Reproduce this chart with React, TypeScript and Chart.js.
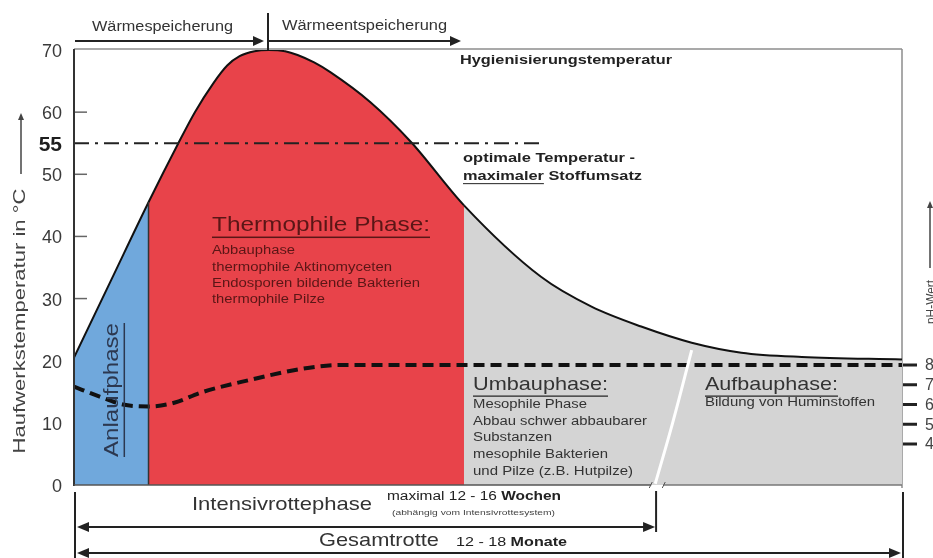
import { useEffect, useRef } from "react";
import { Chart, registerables } from "chart.js";

Chart.register(...registerables);

// ---- data ----
// x: share of the total composting time in %, y: heap temperature in °C
const timePct = [0, 4.5, 9, 12.6, 14.6, 16.8, 18.5, 20, 21.8, 23.5, 25.5, 27, 29, 31, 35.8, 40.7, 47.1, 56.4, 62.5, 68.5, 74.6, 80.6, 87.9, 100];
const temperature = [20.5, 33, 45.5, 55, 60, 64.6, 67.5, 69.0, 69.8, 70, 69.8, 69.2, 68.0, 66.4, 61.6, 55.2, 45, 33.5, 28.7, 25.5, 22.9, 21.3, 20.6, 20.2];
// phase boundaries (% of time): Anlaufphase | Thermophile Phase | Umbau-/Aufbauphase
const phaseBounds = [9, 47.1];
// pH curve (dashed)
const phTimePct = [0, 3.1, 5.9, 9, 12.2, 15.3, 21.3, 27.4, 32.2, 100];
const phValue = [6.9, 6.4, 6.0, 5.9, 6.1, 6.6, 7.25, 7.8, 8.0, 8.0];
// optimum temperature reference line
const optimumTemp = 55;
const optimumSpan = [0, 56.3];
// break of the time axis (white curve)
const breakTimePct = [74.6, 72.3, 70.2];
const breakTemp = [21.7, 10, 0.2];
// tick labels
const tempTicks = [0, 10, 20, 30, 40, 50, 55, 60, 70];
const phTicks = [4, 5, 6, 7, 8];
const intensiveEndPct = 70.3;

const FONT = "'Liberation Sans', Arial, Helvetica, sans-serif";
const BLUE = "#70a8dc";
const RED = "#e8434a";
const GRAY = "#d4d4d4";

type Run = { t: string; b?: boolean; u?: boolean };

function drawRuns(
  ctx: CanvasRenderingContext2D,
  runs: Run[],
  x: number,
  y: number,
  size: number,
  color: string,
  width?: number,
  align: "left" | "center" = "left"
) {
  ctx.save();
  const ws = runs.map((r) => {
    ctx.font = `${r.b ? "bold " : ""}${size}px ${FONT}`;
    return ctx.measureText(r.t).width;
  });
  const total = ws.reduce((a, b) => a + b, 0);
  const sx = width ? width / total : 1;
  ctx.translate(x, y);
  ctx.scale(sx, 1);
  let cx = align === "center" ? -total / 2 : 0;
  ctx.fillStyle = color;
  ctx.textBaseline = "middle";
  ctx.textAlign = "left";
  runs.forEach((r, i) => {
    ctx.font = `${r.b ? "bold " : ""}${size}px ${FONT}`;
    ctx.fillText(r.t, cx, 0);
    if (r.u) {
      const tw = ctx.measureText(r.t.trimEnd()).width;
      ctx.fillRect(cx, size * 0.55, tw, Math.max(1, size / 14));
    }
    cx += ws[i];
  });
  ctx.restore();
}

function line(ctx: CanvasRenderingContext2D, x1: number, y1: number, x2: number, y2: number, color: string, w: number) {
  ctx.save();
  ctx.strokeStyle = color;
  ctx.lineWidth = w;
  ctx.beginPath();
  ctx.moveTo(x1, y1);
  ctx.lineTo(x2, y2);
  ctx.stroke();
  ctx.restore();
}

function head(ctx: CanvasRenderingContext2D, x: number, y: number, dir: "l" | "r" | "u", len: number, half: number, color: string) {
  ctx.save();
  ctx.fillStyle = color;
  ctx.beginPath();
  if (dir === "r") {
    ctx.moveTo(x, y);
    ctx.lineTo(x - len, y - half);
    ctx.lineTo(x - len, y + half);
  } else if (dir === "l") {
    ctx.moveTo(x, y);
    ctx.lineTo(x + len, y - half);
    ctx.lineTo(x + len, y + half);
  } else {
    ctx.moveTo(x, y);
    ctx.lineTo(x - half, y + len);
    ctx.lineTo(x + half, y + len);
  }
  ctx.closePath();
  ctx.fill();
  ctx.restore();
}

const framePlugin = {
  id: "frame",
  beforeDatasetsDraw(chart: any) {
    const { ctx, chartArea: a, scales } = chart;
    const y = scales.y;
    // top & right frame
    line(ctx, a.left, a.top - 1, a.right, a.top - 1, "#8c8c8c", 1.5);
    line(ctx, a.right, a.top - 1, a.right, a.bottom + 3, "#8c8c8c", 1.5);
    // inner tick marks
    tempTicks.forEach((t) => {
      if (t === 0 || t === 70 || t === optimumTemp) return;
      const py = y.getPixelForValue(t);
      line(ctx, a.left, py, a.left + 13, py, "#666", 1.5);
    });
  },
  afterDatasetsDraw(chart: any) {
    const { ctx, chartArea: a, scales } = chart;
    const x = scales.x;
    const y = scales.y;
    const yPh = scales.yPh;
    // phase separator blue/red
    const bx = x.getPixelForValue(phaseBounds[0]);
    const idx = timePct.indexOf(phaseBounds[0]);
    line(ctx, bx, a.bottom, bx, y.getPixelForValue(temperature[idx]), "#333", 1.5);
    // axes lines
    line(ctx, a.left, a.top - 1, a.left, a.bottom + 1, "#333", 2);
    const brk = x.getPixelForValue(breakTimePct[2]);
    line(ctx, a.left, a.bottom, brk - 4, a.bottom, "#555", 1.5);
    line(ctx, brk + 8, a.bottom, a.right, a.bottom, "#777", 1.5);
    line(ctx, brk - 6, a.bottom + 3, brk - 3, a.bottom - 3, "#555", 1);
    line(ctx, brk + 7, a.bottom + 3, brk + 10, a.bottom - 3, "#555", 1);

    // y tick labels
    tempTicks.forEach((t) => {
      const py = y.getPixelForValue(t) + 2;
      const bold = t === optimumTemp;
      ctx.save();
      ctx.font = `${bold ? "bold 21px" : "18px"} ${FONT}`;
      ctx.fillStyle = bold ? "#1e1e1e" : "#3a3a3a";
      ctx.textAlign = "right";
      ctx.textBaseline = "middle";
      ctx.fillText(String(t), 62, py);
      ctx.restore();
    });
    // y title + arrow
    ctx.save();
    ctx.translate(20, 321);
    ctx.rotate(-Math.PI / 2);
    drawRuns(ctx, [{ t: "Haufwerkstemperatur in °C" }], 0, 0, 17, "#444", 265, "center");
    ctx.restore();
    line(ctx, 21, 174, 21, 118, "#444", 1.5);
    head(ctx, 21, 113, "u", 7, 3, "#444");

    // pH axis
    phTicks.forEach((p) => {
      const py = yPh.getPixelForValue(p);
      line(ctx, a.right + 1, py, a.right + 15, py, "#222", 3);
      ctx.save();
      ctx.font = `16px ${FONT}`;
      ctx.fillStyle = "#444";
      ctx.textBaseline = "middle";
      ctx.textAlign = "left";
      ctx.fillText(String(p), 925, py + 1);
      ctx.restore();
    });
    ctx.save();
    ctx.translate(931, 302);
    ctx.rotate(-Math.PI / 2);
    drawRuns(ctx, [{ t: "pH-Wert" }], 0, 0, 13, "#444", 44, "center");
    ctx.restore();
    line(ctx, 930, 268, 930, 206, "#444", 1.5);
    head(ctx, 930, 201, "u", 7, 3, "#444");

    // top arrows
    line(ctx, a.left + 1, 41, 258, 41, "#222", 2);
    head(ctx, 264, 41, "r", 11, 5, "#222");
    line(ctx, 268, 13, 268, a.top, "#222", 2);
    line(ctx, 268, 41, 454, 41, "#222", 2);
    head(ctx, 461, 41, "r", 11, 5, "#222");
    drawRuns(ctx, [{ t: "Wärmespeicherung" }], 92, 27, 14, "#333", 141);
    drawRuns(ctx, [{ t: "Wärmeentspeicherung" }], 282, 26, 14, "#333", 165);

    // right annotations
    drawRuns(ctx, [{ t: "Hygienisierungstemperatur", b: true }], 460, 60, 13, "#222", 212);
    drawRuns(ctx, [{ t: "optimale Temperatur -", b: true }], 463, 158, 13, "#222", 172);
    drawRuns(ctx, [{ t: "maximaler", b: true, u: true }, { t: " Stoffumsatz", b: true }], 463, 176, 13, "#222", 179);

    // thermophile
    const tc = "#5a1616";
    drawRuns(ctx, [{ t: "Thermophile Phase:", u: true }], 212, 225, 21, tc, 218);
    drawRuns(ctx, [{ t: "Abbauphase" }], 212, 251, 12, tc, 83);
    drawRuns(ctx, [{ t: "thermophile Aktinomyceten" }], 212, 268, 12, tc, 180);
    drawRuns(ctx, [{ t: "Endosporen bildende Bakterien" }], 212, 284, 12, tc, 208);
    drawRuns(ctx, [{ t: "thermophile Pilze" }], 212, 300, 12, tc, 113);

    // Anlaufphase
    ctx.save();
    ctx.translate(112, 390);
    ctx.rotate(-Math.PI / 2);
    drawRuns(ctx, [{ t: "Anlaufphase", u: true }], 0, 0, 21, "#2c3850", 134, "center");
    ctx.restore();

    // Umbau / Aufbau
    const gc = "#333";
    drawRuns(ctx, [{ t: "Umbauphase:", u: true }], 473, 385, 19, gc, 135);
    drawRuns(ctx, [{ t: "Mesophile Phase" }], 473, 405, 12, gc, 114);
    drawRuns(ctx, [{ t: "Abbau schwer abbaubarer" }], 473, 422, 12, gc, 174);
    drawRuns(ctx, [{ t: "Substanzen" }], 473, 438, 12, gc, 79);
    drawRuns(ctx, [{ t: "mesophile Bakterien" }], 473, 455, 12, gc, 135);
    drawRuns(ctx, [{ t: "und Pilze (z.B. Hutpilze)" }], 473, 472, 12, gc, 160);
    drawRuns(ctx, [{ t: "Aufbauphase:", u: true }], 705, 385, 19, gc, 133);
    drawRuns(ctx, [{ t: "Bildung von Huminstoffen" }], 705, 403, 12, gc, 170);

    // bottom brackets
    const ie = x.getPixelForValue(intensiveEndPct);
    line(ctx, a.left + 1, a.bottom + 7, a.left + 1, 558, "#222", 2);
    line(ctx, ie, a.bottom + 6, ie, 532, "#222", 2);
    line(ctx, a.right + 1, a.bottom + 7, a.right + 1, 558, "#222", 2);
    line(ctx, a.left + 10, 527, ie - 10, 527, "#222", 2);
    head(ctx, a.left + 3, 527, "l", 12, 5, "#222");
    head(ctx, ie - 1, 527, "r", 12, 5, "#222");
    line(ctx, a.left + 10, 553, a.right - 10, 553, "#222", 2);
    head(ctx, a.left + 3, 553, "l", 12, 5, "#222");
    head(ctx, a.right - 1, 553, "r", 12, 5, "#222");
    drawRuns(ctx, [{ t: "Intensivrottephase" }], 192, 505, 19, "#333", 180);
    drawRuns(ctx, [{ t: "maximal 12 - 16 " }, { t: "Wochen", b: true }], 387, 497, 12, "#222", 174);
    drawRuns(ctx, [{ t: "(abhängig vom Intensivrottesystem)" }], 392, 513, 7, "#444", 163);
    drawRuns(ctx, [{ t: "Gesamtrotte" }], 319, 541, 19, "#333", 120);
    drawRuns(ctx, [{ t: "12 - 18 " }, { t: "Monate", b: true }], 456, 542, 13, "#222", 111);
  },
};

export default function App() {
  const ref = useRef<HTMLCanvasElement | null>(null);
  useEffect(() => {
    document.body.style.margin = "0";
    const canvas = ref.current;
    if (!canvas) return;
    const chart = new Chart(canvas, {
      type: "line",
      data: {
        datasets: [
          {
            data: breakTimePct.map((t, i) => ({ x: t, y: breakTemp[i] })),
            borderColor: "#ffffff",
            borderWidth: 3,
            pointRadius: 0,
            tension: 0.4,
            fill: false,
            order: 0,
          },
          {
            yAxisID: "yPh",
            data: phTimePct.map((t, i) => ({ x: t, y: phValue[i] })),
            borderColor: "#111",
            borderWidth: 4,
            borderDash: [11, 6],
            pointRadius: 0,
            cubicInterpolationMode: "monotone",
            fill: false,
            order: 1,
          },
          {
            data: optimumSpan.map((t) => ({ x: t, y: optimumTemp })),
            borderColor: "#222",
            borderWidth: 2,
            borderDash: [15, 6, 3, 6],
            pointRadius: 0,
            fill: false,
            order: 2,
          },
          {
            data: timePct.map((t, i) => ({ x: t, y: temperature[i] })),
            borderColor: "#111",
            borderWidth: 2,
            backgroundColor: GRAY,
            fill: "origin",
            cubicInterpolationMode: "monotone",
            pointRadius: 0,
            order: 3,
            segment: {
              backgroundColor: (c: any) =>
                c.p0.parsed.x < phaseBounds[0] ? BLUE : c.p0.parsed.x < phaseBounds[1] ? RED : GRAY,
            },
          },
        ] as any,
      },
      options: {
        animation: false,
        responsive: false,
        devicePixelRatio: 1,
        events: [],
        layout: { padding: { left: 74, right: 31, top: 50, bottom: 73 } },
        scales: {
          x: { type: "linear", min: 0, max: 100, display: false },
          y: { type: "linear", min: 0, max: 70, display: false },
          yPh: { type: "linear", min: 1.924, max: 23.95, display: false },
        },
        plugins: { legend: { display: false }, tooltip: { enabled: false } },
      } as any,
      plugins: [framePlugin],
    });
    return () => chart.destroy();
  }, []);
  return (
    <div style={{ position: "relative", width: 933, height: 558, background: "#fff" }}>
      <canvas ref={ref} width={933} height={558} style={{ display: "block" }} />
    </div>
  );
}
